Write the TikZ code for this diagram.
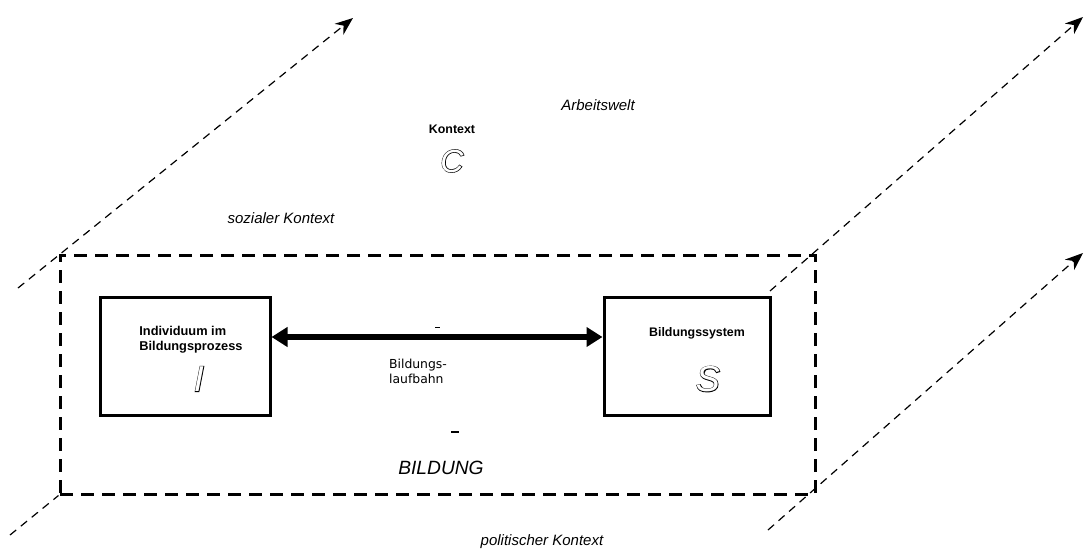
\documentclass[tikz,border=0pt]{standalone}
\usepackage{fontspec}
\setmainfont{Liberation Sans}
\newfontfamily\dejavu{DejaVu Sans}
\newfontface\strokeditalic[FakeBold=3.5]{Liberation Sans Italic}
\usetikzlibrary{arrows.meta}
% hollow (outlined) letters: a thickened black copy under a white copy
\newcommand{\hollowletter}[1]{\makebox[0pt][l]{\strokeditalic #1}\textcolor{white}{\itshape #1}}
\newcommand{\fs}[1]{\fontsize{#1}{1.2\dimexpr#1\relax}\selectfont}
\begin{document}
\begin{tikzpicture}[x=0.5pt,y=-0.5pt,
  guide/.style={line width=0.6pt, dash pattern=on 4pt off 3pt},
  guidearrow/.style={guide, -{Stealth[length=9pt,width=7pt]}},
  frame/.style={draw, line width=1.5pt, dash pattern=on 6.5pt off 4pt,
    minimum width=377.5pt, minimum height=119.5pt, inner sep=0pt},
  box/.style={draw, line width=1.5pt, minimum height=59pt, inner sep=0pt},
  link/.style={line width=3pt, {Triangle[length=8pt,width=9.5pt]}-{Triangle[length=8pt,width=9.5pt]}},
  ctx/.style={font=\itshape\fs{7.5pt}},
  label/.style={font=\bfseries\fs{6.2pt}, inner sep=0pt},
  big/.style={font=\fs{18pt}, inner sep=0pt}]
\useasboundingbox (0,0) rectangle (1084,552);

% education frame
\node[frame] (frame) at (437.5,374.5) {};

% context axes
\coordinate (lu0) at (18,288);
\coordinate (lu1) at (353,18);
\coordinate (ll0) at (10,535);
\coordinate (ru0) at (770,291);
\coordinate (ru1) at (1083,17);
\coordinate (rl0) at (768,530);
\coordinate (rl1) at (1083,253);
\draw[guidearrow] (lu0) -- (lu1);
\draw[guide] (ll0) -- (frame.south west);
\draw[guidearrow] (ru0) -- (ru1);
\draw[guidearrow] (rl0) -- (rl1);

% context labels
\node[ctx] (arbeit) at (598,105) {Arbeitswelt};
\node[label] (kontext) at (452,129) {Kontext};
\node[big, font=\fs{16pt}] (C) at (452,161) {\hollowletter{C}};
\node[ctx] (sozial) at (281,218) {sozialer Kontext};
\node[ctx] (polit) at (542,542) {politischer Kontext};
\node[font=\itshape\fs{9.6pt}] (bildung) at (441,468) {BILDUNG};

% individual and system
\node[box, minimum width=85pt] (ind) at (185,356) {};
\node[box, minimum width=83pt] (sys) at (687,356) {};
\node[label, anchor=west, align=left, font=\bfseries\fs{6.4pt}] (indtext) at (139,340) {Individuum im\\Bildungsprozess};
\node[big] (I) at (199,379) {\hollowletter{I}};
\node[label] (systext) at (697,333) {Bildungssystem};
\node[big] (S) at (708,379) {\hollowletter{S}};

% educational pathway
\draw[link] ([yshift=9.5pt]ind.east) -- ([yshift=9.5pt]sys.west);
\node[font=\dejavu\fs{6.2pt}, align=left] (laufbahn) at (418,371) {Bildungs-\\laufbahn};

% small stray marks
\coordinate (m1) at (435,327);
\coordinate (m2) at (440,327);
\coordinate (m3) at (451,432);
\coordinate (m4) at (459,432);
\draw[line width=0.5pt] (m1) -- (m2);
\draw[line width=0.6pt] (m3) -- (m4);
\end{tikzpicture}
\end{document}
